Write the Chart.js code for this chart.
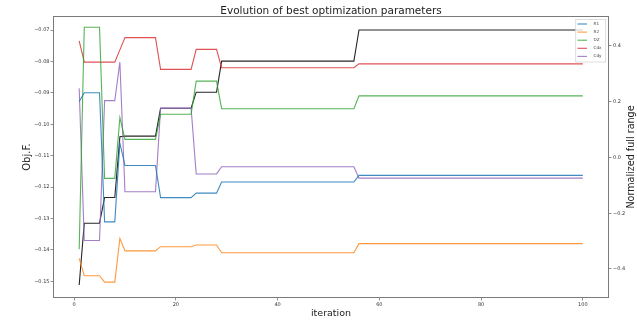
<!DOCTYPE html>
<html>
<head>
<meta charset="utf-8">
<title>Evolution of best optimization parameters</title>
<script src="https://cdn.jsdelivr.net/npm/chart.js@4.4.0/dist/chart.umd.min.js"></script>
<style>
  html, body { margin: 0; padding: 0; background: #fff; }
  #wrap { width: 637px; height: 320px; }
</style>
</head>
<body>
<div id="wrap"><canvas id="chart" width="637" height="320"></canvas></div>
<script>
// iterations where the best parameter set changes (flat in between)
const iterations = [1, 2, 5, 6, 8, 9, 10, 16, 17, 23, 24, 28, 29, 55, 56, 100]

// objective function, left axis
const objF = [-0.1512, -0.1315, -0.1315, -0.1233, -0.1233, -0.1040, -0.1038, -0.1038,
    -0.0949, -0.0949, -0.0898, -0.0898, -0.0799, -0.0799, -0.0700, -0.0700]

// normalized parameters, right axis
const r1 = [0.201, 0.232, 0.232, -0.231, -0.231, 0.052, -0.029, -0.029,
    -0.144, -0.144, -0.128, -0.128, -0.088, -0.088, -0.064, -0.064]
const r2 = [-0.362, -0.424, -0.424, -0.447, -0.447, -0.290, -0.335, -0.335,
    -0.320, -0.320, -0.314, -0.314, -0.342, -0.342, -0.309, -0.309]
const dz = [-0.329, 0.467, 0.467, -0.075, -0.075, 0.143, 0.065, 0.065,
    0.155, 0.155, 0.274, 0.274, 0.175, 0.175, 0.221, 0.221]
const cdx = [0.418, 0.342, 0.342, 0.342, 0.342, 0.386, 0.430, 0.430,
    0.316, 0.316, 0.388, 0.388, 0.322, 0.322, 0.336, 0.336]
const cdy = [0.248, -0.298, -0.298, 0.204, 0.204, 0.342, -0.123, -0.123,
    0.177, 0.177, -0.059, -0.059, -0.033, -0.033, -0.074, -0.074]

const paramNames = ['R1', 'R2', 'DZ', 'Cdx', 'Cdy']
const paramValues = [r1, r2, dz, cdx, cdy]

const xTicks = [0, 20, 40, 60, 80, 100]
const objTicks = [-0.15, -0.14, -0.13, -0.12, -0.11, -0.10, -0.09, -0.08, -0.07]
const normTicks = [-0.4, -0.2, 0.0, 0.2, 0.4]

const colors = ['rgba(31,119,180,0.85)', 'rgba(255,127,14,0.8)', 'rgba(44,160,44,0.8)',
    'rgba(214,39,40,0.8)', 'rgba(148,103,189,0.85)']

const minus = s => s.replace('-', '\u2212')
const toPoints = vals => iterations.map((it, i) => ({ x: it, y: vals[i] }))

Chart.defaults.font.family = "'DejaVu Sans', sans-serif"
Chart.defaults.color = '#333'

// box around the plot, title, right axis label and the legend box
const decorations = {
    id: 'decorations',
    afterDraw(chart) {
        const { ctx, chartArea: a } = chart
        ctx.save()

        ctx.strokeStyle = '#7a7a7a'
        ctx.lineWidth = 1
        ctx.strokeRect(a.left - 0.5, a.top - 0.5, a.right - a.left + 1, a.bottom - a.top + 1)

        ctx.fillStyle = '#222'
        ctx.font = "10.5px 'DejaVu Sans'"
        ctx.textAlign = 'center'
        ctx.textBaseline = 'alphabetic'
        ctx.fillText('Evolution of best optimization parameters', (a.left + a.right) / 2, 14)

        ctx.save()
        ctx.translate(634, (a.top + a.bottom) / 2)
        ctx.rotate(-Math.PI / 2)
        ctx.font = "9.6px 'DejaVu Sans'"
        ctx.fillText('Normalized full range', 0, 0)
        ctx.restore()

        // legend
        ctx.fillStyle = 'rgba(255,255,255,0.8)'
        ctx.fillRect(575.7, 19.5, 30, 42.5)
        ctx.strokeStyle = '#d6d6d6'
        ctx.lineWidth = 0.8
        ctx.strokeRect(575.7, 19.5, 30, 42.5)
        ctx.font = "4.2px 'DejaVu Sans'"
        ctx.textAlign = 'left'
        ctx.textBaseline = 'middle'
        paramNames.forEach((name, i) => {
            const y = 24 + i * 8.1
            ctx.strokeStyle = colors[i]
            ctx.lineWidth = 1.1
            ctx.beginPath()
            ctx.moveTo(577.5, y)
            ctx.lineTo(587, y)
            ctx.stroke()
            ctx.fillStyle = '#444'
            ctx.fillText(name, 593.5, y)
        })

        ctx.restore()
    }
}

const datasets = paramNames.map((name, i) => ({
    label: name,
    data: toPoints(paramValues[i]),
    yAxisID: 'y2',
    borderColor: colors[i],
    borderWidth: 1.1,
    pointRadius: 0,
    order: i
}))
datasets.push({
    label: 'Obj.F.',
    data: toPoints(objF),
    yAxisID: 'y',
    borderColor: '#262626',
    borderWidth: 1.1,
    pointRadius: 0,
    order: 9
})

const tickGrid = { drawOnChartArea: false, drawTicks: true, tickLength: 3.5, color: '#777', tickWidth: 0.8 }

new Chart(document.getElementById('chart'), {
    type: 'line',
    data: { datasets },
    plugins: [decorations],
    options: {
        responsive: false,
        animation: false,
        layout: { padding: { top: 17, left: 0, right: 0, bottom: 0 } },
        plugins: { legend: { display: false }, tooltip: { enabled: false }, title: { display: false } },
        scales: {
            x: {
                type: 'linear',
                min: -3.95,
                max: 104.95,
                afterFit: s => { s.height = 23 },
                afterBuildTicks: s => { s.ticks = xTicks.map(v => ({ value: v })) },
                ticks: { font: { size: 5 }, padding: 1, maxRotation: 0, autoSkip: false, callback: v => String(v) },
                grid: tickGrid,
                border: { display: false },
                title: { display: true, text: 'iteration', color: '#222', font: { size: 9.5 }, padding: { top: 0, bottom: 1 } }
            },
            y: {
                type: 'linear',
                position: 'left',
                min: -0.155,
                max: -0.06586,
                afterFit: s => { s.width = 54 },
                afterBuildTicks: s => { s.ticks = objTicks.map(v => ({ value: v })) },
                ticks: { font: { size: 5 }, padding: 1, autoSkip: false, callback: v => minus(v.toFixed(2)) },
                grid: tickGrid,
                border: { display: false },
                title: { display: true, text: 'Obj.F.', color: '#222', font: { size: 10 }, padding: { top: 21.4, bottom: 0 } }
            },
            y2: {
                type: 'linear',
                position: 'right',
                min: -0.5005,
                max: 0.504,
                afterFit: s => { s.width = 29 },
                afterBuildTicks: s => { s.ticks = normTicks.map(v => ({ value: v })) },
                ticks: { font: { size: 5 }, padding: 1.5, autoSkip: false, callback: v => minus(v.toFixed(1)) },
                grid: tickGrid,
                border: { display: false }
            }
        }
    }
})
</script>
</body>
</html>
